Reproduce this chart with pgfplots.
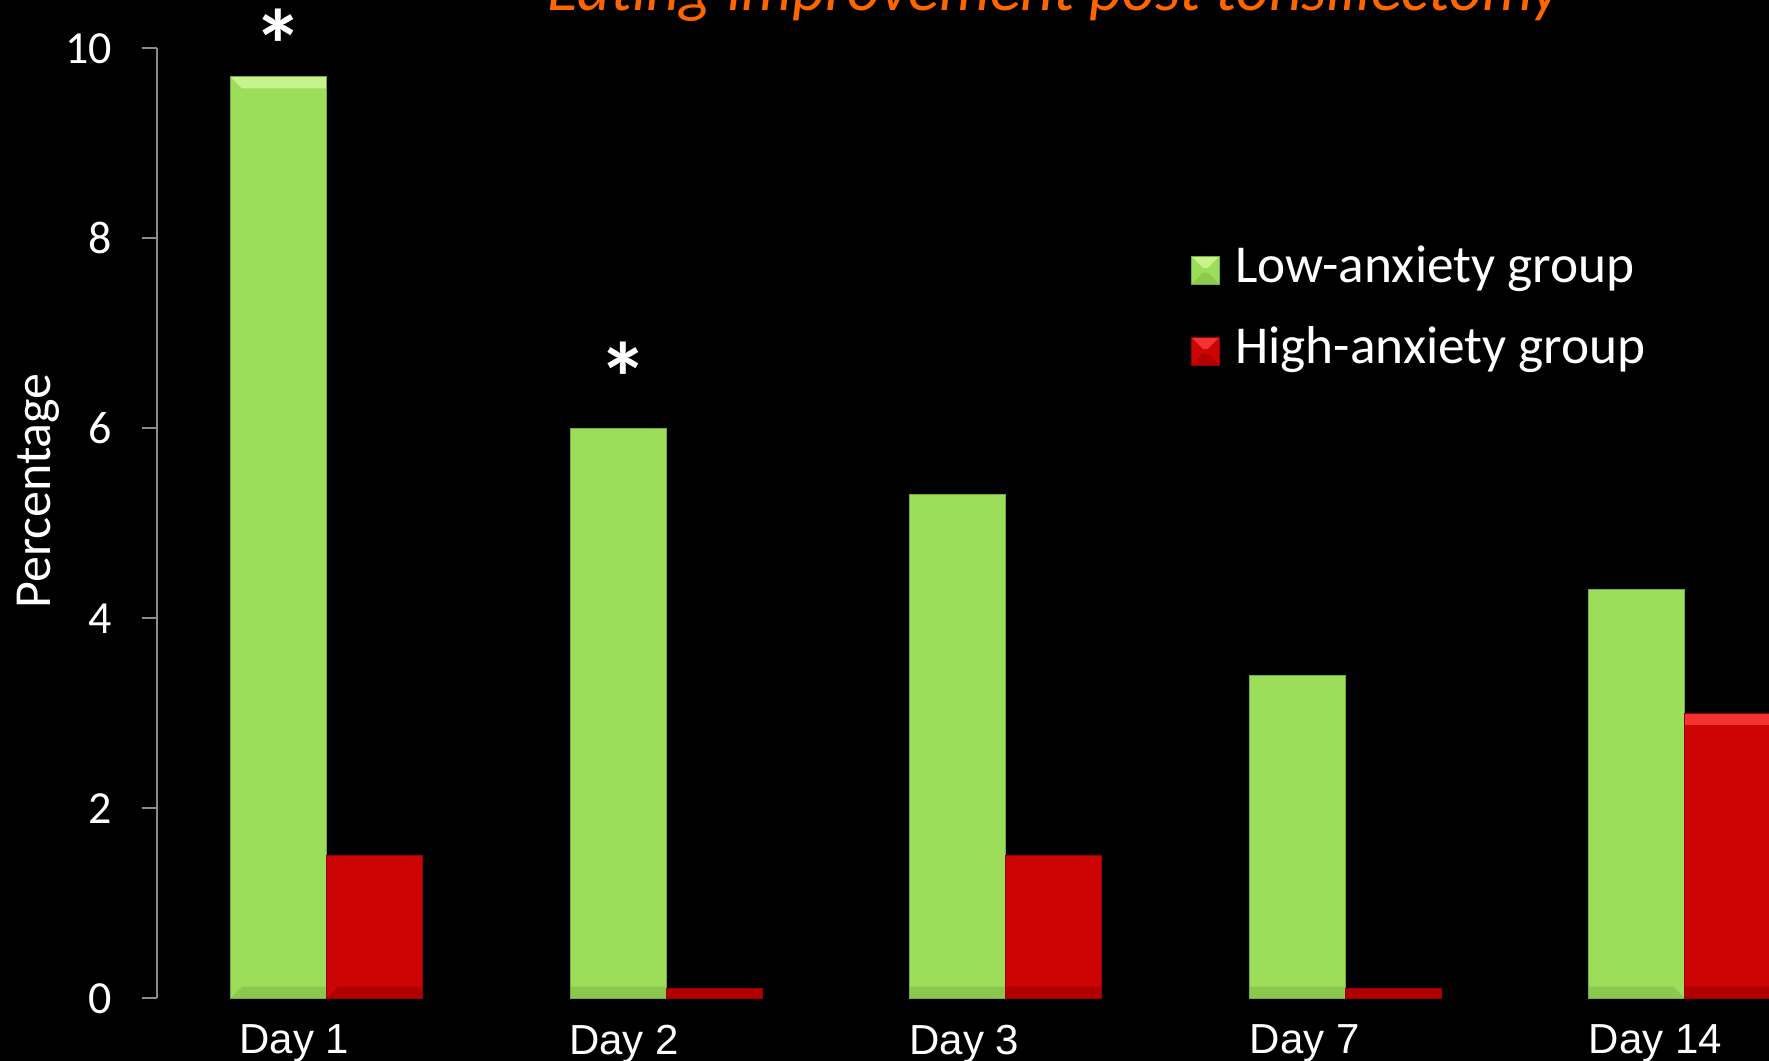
\documentclass[border=0pt]{standalone}
\usepackage{fontspec}
\setmainfont{Carlito}
\newfontfamily\arialfont{Liberation Sans}
\usepackage{pgfplots}
\usepackage{pgfplotstable}
\pgfplotsset{compat=1.18}

\definecolor{lowgreen}{RGB}{156,222,90}
\definecolor{lowgreenhi}{RGB}{200,242,140}
\definecolor{lowgreenlo}{RGB}{140,200,78}
\definecolor{lowgreenedge}{RGB}{118,170,64}
\definecolor{highred}{RGB}{204,4,4}
\definecolor{highredhi}{RGB}{245,50,50}
\definecolor{highredlo}{RGB}{176,0,0}
\definecolor{highrededge}{RGB}{150,0,0}
\definecolor{axisgray}{RGB}{140,140,140}
\definecolor{titleorange}{RGB}{255,102,0}

% percentage of children showing eating improvement, per day
\pgfplotstableread{
day low high
0   9.7 1.5
1   6.0 0.1
2   5.3 1.5
3   3.4 0.1
4   4.3 3.0
}\eatingdata

% bevelled bar face: light top band, dark bottom band (plain pgf, so no option recursion)
\tikzset{
  bevel/.style n args={2}{
    path picture={
      \pgfsetfillcolor{#1}%
      \pgfpathmoveto{\pgfpointanchor{path picture bounding box}{north west}}%
      \pgfpathlineto{\pgfpointanchor{path picture bounding box}{north east}}%
      \pgfpathlineto{\pgfpointadd{\pgfpointanchor{path picture bounding box}{north east}}{\pgfpoint{-3.5pt}{-3.5pt}}}%
      \pgfpathlineto{\pgfpointadd{\pgfpointanchor{path picture bounding box}{north west}}{\pgfpoint{3.5pt}{-3.5pt}}}%
      \pgfpathclose
      \pgfusepath{fill}%
      \pgfsetfillcolor{#2}%
      \pgfpathmoveto{\pgfpointanchor{path picture bounding box}{south west}}%
      \pgfpathlineto{\pgfpointanchor{path picture bounding box}{south east}}%
      \pgfpathlineto{\pgfpointadd{\pgfpointanchor{path picture bounding box}{south east}}{\pgfpoint{-3.5pt}{3.5pt}}}%
      \pgfpathlineto{\pgfpointadd{\pgfpointanchor{path picture bounding box}{south west}}{\pgfpoint{3.5pt}{3.5pt}}}%
      \pgfpathclose
      \pgfusepath{fill}%
    }
  }
}
% square legend swatch
\pgfplotsset{
  swatch legend/.style={
    legend image code/.code={\fill[##1] (0pt,-4.25pt) rectangle (8.5pt,4.25pt);}
  }
}

\begin{document}
\begin{tikzpicture}
\path[use as bounding box] (0,0) rectangle (530.7pt,318.3pt);
\fill[black] (0,0) rectangle (530.7pt,318.3pt);
\clip (0,0) rectangle (530.7pt,318.3pt);
\begin{axis}[
  at={(47.01pt,18.81pt)}, anchor=south west,
  scale only axis, width=509.4pt, height=285pt,
  ybar=0pt, bar width=28.8pt,
  xmin=-0.5, xmax=4.5, ymin=0, ymax=10,
  xtick={-0.258,0.713,1.715,2.717,3.715},
  xticklabels={Day 1,Day 2,Day 3,Day 7,Day 14},
  ytick={0,2,...,10},
  axis lines*=left,
  x axis line style={draw=none},
  y axis line style={draw=axisgray, line width=0.6pt},
  tick align=outside, major tick length=4.5pt,
  ytick style={draw=axisgray, line width=0.6pt},
  xtick style={draw=none},
  /pgf/number format/assume math mode=true,
  yticklabel style={font=\fontsize{13.8}{16}\selectfont, text=white, xshift=-5.4pt},
  xticklabel style={font=\arialfont\fontsize{12.6}{15}\selectfont, text=white,
    anchor=north west, inner xsep=0pt},
  clip=false,
  every axis title shift=0pt,
  title={Eating improvement post tonsillectomy},
  title style={at={(axis description cs:0.5285,1.0393)}, anchor=base,
    font=\fontsize{19.25}{22}\selectfont\itshape, text=titleorange, inner sep=0pt},
  ylabel={Percentage},
  ylabel style={at={(axis description cs:-0.0699,0.534)}, anchor=center,
    font=\fontsize{15.6}{18}\selectfont, text=white},
  legend style={at={(axis description cs:0.6085,0.7925)}, anchor=north west,
    draw=none, fill=none, text=white, inner sep=0pt,
    font=\fontsize{16}{18}\selectfont,
    nodes={inner sep=0pt, text height=11pt, text depth=3.5pt},
    row sep=9.8pt, column sep=4.6pt},
  legend cell align=left,
]
\addplot[fill=lowgreen, draw=lowgreenedge, line width=0.3pt, bevel={lowgreenhi}{lowgreenlo}, swatch legend]
  table[x=day, y=low] {\eatingdata};
\addlegendentry{Low-anxiety group}
\addplot[fill=highred, draw=highrededge, line width=0.3pt, bevel={highredhi}{highredlo}, swatch legend]
  table[x=day, y=high] {\eatingdata};
\addlegendentry{High-anxiety group}

\node[anchor=north, inner sep=0pt, font=\fontsize{30}{32}\selectfont\bfseries, text=white]
  at (axis cs:-0.143,10.42) {*};
\node[anchor=north, inner sep=0pt, font=\fontsize{30}{32}\selectfont\bfseries, text=white]
  at (axis cs:0.873,6.92) {*};
\end{axis}
\end{tikzpicture}
\end{document}
